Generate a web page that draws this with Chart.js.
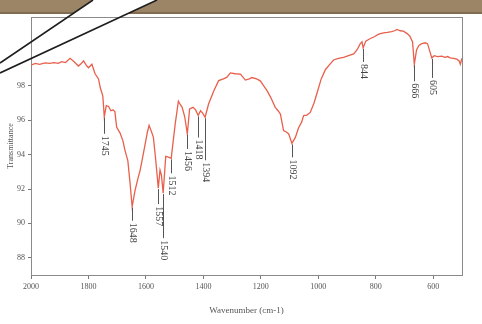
<!DOCTYPE html>
<html>
<head>
<meta charset="utf-8">
<script src="https://cdn.jsdelivr.net/npm/chart.js@4.4.1/dist/chart.umd.min.js"></script>
<style>
  html, body { margin: 0; padding: 0; background: #ffffff; }
  #wrap { width: 482px; height: 324px; position: relative; }
</style>
</head>
<body>
<div id="wrap"><canvas id="ftir" width="482" height="324"></canvas></div>
<script>
// FTIR spectrum: wavenumber (cm-1) and transmittance (%)
const wavenumbers = [
  2000, 1985, 1970, 1951, 1935, 1920, 1905, 1893, 1880, 1864, 1850, 1835, 1825, 1817, 1808,
  1800, 1788, 1777, 1765, 1759, 1750, 1745, 1738, 1730, 1722, 1715, 1708, 1702, 1690, 1680,
  1673, 1663, 1655, 1648, 1638, 1628, 1620, 1605, 1595, 1589, 1580, 1574, 1566, 1557, 1551,
  1546, 1540, 1531, 1522, 1512, 1505, 1498, 1487, 1480, 1474, 1465, 1456, 1448, 1436, 1427,
  1418, 1410, 1402, 1394, 1382, 1364, 1347, 1330, 1318, 1306, 1290, 1271, 1254, 1240, 1231,
  1215, 1202, 1190, 1178, 1165, 1150, 1140, 1132, 1121, 1110, 1103, 1092, 1080, 1069, 1058,
  1051, 1040, 1028, 1015, 1005, 990, 975, 960, 947, 930, 912, 895, 877, 865, 854,
  848, 844, 835, 819, 805, 790, 773, 760, 745, 735, 726, 715, 704, 692, 682,
  672, 666, 658, 650, 640, 628, 620, 612, 605, 597, 585, 570, 560, 550, 541,
  530, 518, 510, 506, 500
];
const transmittance = [
  99.2, 99.3, 99.25, 99.33, 99.3, 99.35, 99.3, 99.4, 99.35, 99.6, 99.4, 99.15, 99.3, 99.45, 99.2,
  99.05, 99.25, 98.7, 98.4, 97.9, 97.4, 96.2, 96.85, 96.8, 96.55, 96.6, 96.5, 95.6, 95.25, 94.8,
  94.25, 93.65, 92.3, 90.97, 91.9, 92.6, 93.1, 94.4, 95.3, 95.7, 95.3, 95.0, 93.7, 92.05, 93.1,
  92.8, 91.76, 93.9, 93.85, 93.78, 94.8, 95.8, 97.1, 96.9, 96.75, 96.2, 95.2, 96.65, 96.75, 96.6,
  96.27, 96.55, 96.4, 96.17, 96.94, 97.7, 98.3, 98.4, 98.5, 98.75, 98.7, 98.68, 98.33, 98.4, 98.48,
  98.4, 98.29, 98.0, 97.7, 97.3, 96.75, 96.55, 96.36, 95.4, 95.3, 95.2, 94.65, 95.0, 95.55, 95.9,
  96.27, 96.3, 96.45, 97.0, 97.55, 98.4, 98.95, 99.25, 99.5, 99.6, 99.65, 99.75, 99.85, 100.1, 100.45,
  100.55, 100.2, 100.6, 100.75, 100.85, 101.0, 101.08, 101.1, 101.15, 101.2, 101.28, 101.2, 101.18, 101.05, 100.9,
  100.55, 99.25, 100.1, 100.35, 100.45, 100.5, 100.45, 100.0, 99.62, 99.75, 99.7, 99.72, 99.65, 99.7, 99.62,
  99.6, 99.55, 99.45, 99.25, 99.6
];

// Labelled absorption bands (cm-1)
const peakWavenumbers = [1745, 1648, 1557, 1540, 1512, 1456, 1418, 1394, 1092, 844, 666, 605];
// Leader-line length under each band label (px)
const leaderLengths = [17, 14, 16, 45, 15, 15, 22, 43, 14, 14, 17, 20];

// Axis tick labels
const xTicks = [2000, 1800, 1600, 1400, 1200, 1000, 800, 600];
const yTicks = [88, 90, 92, 94, 96, 98];

const points = wavenumbers.map((w, i) => ({ x: w, y: transmittance[i] }));

// Page header strip and the pointer wedge crossing the top-left corner
const backdrop = {
  id: 'backdrop',
  beforeDraw(chart) {
    const ctx = chart.ctx;
    ctx.save();
    ctx.fillStyle = '#ffffff';
    ctx.fillRect(0, 0, chart.width, chart.height);
    ctx.fillStyle = '#9b8566';
    ctx.fillRect(0, 0, chart.width, 14);
    ctx.fillStyle = '#806c52';
    ctx.fillRect(0, 12, chart.width, 2);
    ctx.fillStyle = '#ffffff';
    ctx.beginPath();
    ctx.moveTo(93, 0); ctx.lineTo(157, 0); ctx.lineTo(0, 73); ctx.lineTo(0, 63);
    ctx.closePath();
    ctx.fill();
    ctx.restore();
  },
  afterDraw(chart) {
    const ctx = chart.ctx;
    ctx.save();
    ctx.strokeStyle = '#1e1e1e';
    ctx.lineWidth = 1.6;
    ctx.beginPath();
    ctx.moveTo(93, 0); ctx.lineTo(0, 63);
    ctx.moveTo(157, 0); ctx.lineTo(0, 73);
    ctx.stroke();
    ctx.restore();
  }
};

// Box around the plotting area
const frame = {
  id: 'frame',
  beforeDatasetsDraw(chart) {
    const { ctx, chartArea: a } = chart;
    ctx.save();
    ctx.strokeStyle = '#8a8a8a';
    ctx.lineWidth = 1;
    ctx.strokeRect(Math.round(a.left) + 0.5, Math.round(a.top) + 0.5,
                   Math.round(a.right - a.left), Math.round(a.bottom - a.top));
    ctx.restore();
  }
};

// Band labels: a short drop line under each minimum and the wavenumber written downwards
const bandLabels = {
  id: 'bandLabels',
  afterDatasetsDraw(chart) {
    const { ctx, scales: { x, y } } = chart;
    ctx.save();
    ctx.strokeStyle = '#555555';
    ctx.lineWidth = 1;
    ctx.fillStyle = '#444444';
    ctx.font = '10px "Liberation Serif", serif';
    peakWavenumbers.forEach((wn, i) => {
      const idx = wavenumbers.indexOf(wn);
      const px = Math.round(x.getPixelForValue(wn)) + 0.5;
      const py = y.getPixelForValue(transmittance[idx]);
      const len = leaderLengths[i];
      ctx.beginPath();
      ctx.moveTo(px, py + 1);
      ctx.lineTo(px, py + len);
      ctx.stroke();
      ctx.save();
      ctx.translate(px, py + len + 2);
      ctx.rotate(Math.PI / 2);
      ctx.textAlign = 'left';
      ctx.textBaseline = 'middle';
      ctx.fillText(String(wn), 0, 0);
      ctx.restore();
    });
    ctx.restore();
  }
};

new Chart(document.getElementById('ftir'), {
  type: 'line',
  data: {
    datasets: [{
      data: points,
      borderColor: '#e8604c',
      borderWidth: 1.3,
      pointRadius: 0,
      tension: 0,
      fill: false
    }]
  },
  options: {
    responsive: false,
    animation: false,
    devicePixelRatio: 1,
    layout: { padding: { left: 0, top: 17, right: 20, bottom: 0 } },
    plugins: { legend: { display: false }, tooltip: { enabled: false } },
    scales: {
      x: {
        type: 'linear',
        reverse: true,
        min: 500,
        max: 2000,
        afterBuildTicks: s => { s.ticks = xTicks.map(v => ({ value: v })); },
        afterFit: s => { s.height = 49; },
        grid: { drawOnChartArea: false, drawTicks: true, tickLength: 4, color: '#777' },
        border: { color: '#777', width: 1 },
        ticks: {
          color: '#555',
          font: { family: '"Liberation Serif", serif', size: 8 },
          padding: 3,
          maxRotation: 0,
          autoSkip: false,
          callback: v => String(v)
        },
        title: {
          display: true,
          text: 'Wavenumber (cm-1)',
          color: '#555',
          font: { family: '"Liberation Serif", serif', size: 9 },
          padding: { top: 0, bottom: 8 }
        }
      },
      y: {
        min: 87,
        max: 102,
        afterBuildTicks: s => { s.ticks = yTicks.map(v => ({ value: v })); },
        afterFit: s => { s.width = 31; },
        grid: { drawOnChartArea: false, drawTicks: true, tickLength: 3, color: '#777' },
        border: { color: '#777', width: 1 },
        ticks: {
          color: '#555',
          font: { family: '"Liberation Serif", serif', size: 8 },
          padding: 3,
          autoSkip: false,
          callback: v => String(v)
        },
        title: {
          display: true,
          text: 'Transmittance',
          color: '#555',
          font: { family: '"Liberation Serif", serif', size: 8 },
          padding: { top: 6, bottom: 0 }
        }
      }
    }
  },
  plugins: [backdrop, frame, bandLabels]
});
</script>
</body>
</html>
